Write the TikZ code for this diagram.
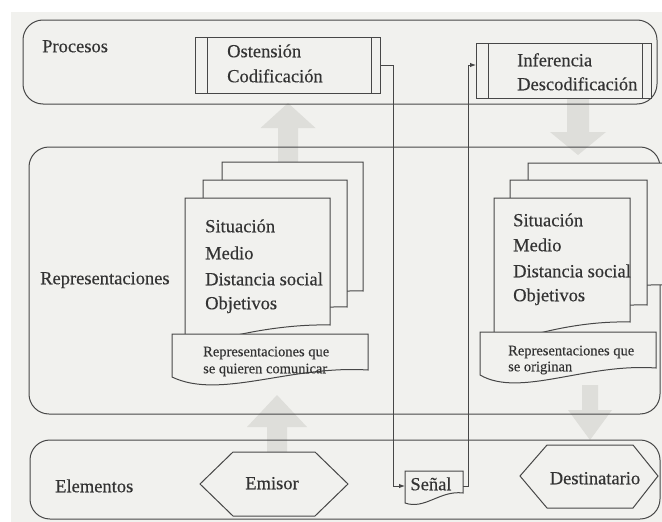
\documentclass[tikz,border=0pt]{standalone}
\usepackage{fontspec}
\setmainfont[FakeBold=0.35]{Liberation Serif}
\usetikzlibrary{arrows.meta}
\definecolor{bgc}{HTML}{F1F1EE}
\definecolor{arrg}{HTML}{DEDEDA}
\definecolor{linec}{HTML}{474747}
\definecolor{txtc}{HTML}{333333}
\newcommand\mainf{\fontsize{18.5}{22}\selectfont}
\newcommand\smallf{\fontsize{14.5}{17}\selectfont}
\newcommand\pagepath[4]{(#1,#2) -- ++(#3,0) -- ++(0,#4) .. controls +(-40,-1) and +(50,-18) .. ++(-#3,25) -- cycle}
\begin{document}
\begin{tikzpicture}[x=1pt,y=-1pt,
  ln/.style={draw=linec, line width=1pt},
  band/.style={ln, rounded corners=20pt, inner sep=0pt, outer sep=0pt},
  procbox/.style={ln, fill=bgc, inner sep=0pt, outer sep=0pt},
  garrow/.style={fill=arrg, draw=none},
  pagefill/.style={ln, fill=bgc},
  txt/.style={anchor=west, inner sep=0pt, text=txtc, font=\mainf, text height=12pt, text depth=3.5pt},
  stxt/.style={anchor=west, inner sep=0pt, text=txtc, font=\smallf, text height=9.5pt, text depth=3pt},
  ctxt/.style={inner sep=0pt, text=txtc, font=\mainf, text height=12pt, text depth=3.5pt},
  conn/.style={ln, -{Latex[length=6pt,width=4.5pt]}},
]
\useasboundingbox (0,0) rectangle (662,522);
% background
\fill[white] (0,0) rectangle (662,522);
\fill[bgc] (11,12) rectangle (662,522);

% grey block arrows
\fill[garrow] (288,103) -- (315.5,128) -- (298,128) -- (298,165) -- (278,165) -- (278,128) -- (260.5,128) -- cycle;
\fill[garrow] (277,395) -- (307,427) -- (287,427) -- (287,455) -- (267,455) -- (267,427) -- (247,427) -- cycle;
\fill[garrow] (567,99) -- (589,99) -- (589,132) -- (606,132) -- (578,155) -- (550,132) -- (567,132) -- cycle;
\fill[garrow] (582,385) -- (598,385) -- (598,410) -- (612,410) -- (590,440) -- (568,410) -- (582,410) -- cycle;

% bands
\node[band, minimum width=634pt, minimum height=84pt] (procesos) at (340,62) {};
\node[band, minimum width=631pt, minimum height=267pt] (repres) at (344.5,280.5) {};
\node[band, minimum width=630pt, minimum height=79pt] (elem) at (345,479.5) {};

% process boxes
\node[procbox, minimum width=185pt, minimum height=56pt] (ost) at (287.5,65) {};
\draw[ln] ([xshift=12pt]ost.north west) -- ([xshift=12pt]ost.south west);
\draw[ln] ([xshift=-9pt]ost.north east) -- ([xshift=-9pt]ost.south east);
\node[procbox, minimum width=175pt, minimum height=55pt] (inf) at (563.5,70.5) {};
\draw[ln] ([xshift=12pt]inf.north west) -- ([xshift=12pt]inf.south west);
\draw[ln] ([xshift=-9pt]inf.north east) -- ([xshift=-9pt]inf.south east);

% left document stack
\draw[pagefill] \pagepath{222}{162}{141}{129};
\draw[pagefill] \pagepath{203}{180}{144}{127};
\draw[pagefill] \pagepath{185}{198}{145}{127};
\draw[pagefill] (172,334) -- (368,334) -- (368,370) .. controls (290,365) and (220,400) .. (172,377) -- cycle;

% right document stack
\draw[pagefill] \pagepath{528}{163}{136}{122};
\draw[pagefill] \pagepath{510}{180}{137}{125};
\draw[pagefill] \pagepath{494}{198}{136}{124};
\draw[pagefill] (480,332) -- (656,332) -- (656,368) .. controls (585,363) and (520,398) .. (480,375) -- cycle;

% hexagons
\draw[pagefill] (200,484) -- (233,452) -- (315,452) -- (348,484) -- (315,516) -- (233,516) -- cycle;
\draw[pagefill] (520,476) -- (547,445) -- (633,445) -- (658,476) -- (633,508) -- (547,508) -- cycle;

% signal document
\node[inner sep=0pt, outer sep=0pt, minimum width=58pt, minimum height=30pt] (senalbox) at (434,486) {};
\draw[pagefill] (405,471) -- (463,471) -- (463,493) .. controls (440,490) and (425,510) .. (405,503) -- cycle;

% texts
\node[txt] (lproc) at (42,48) {Procesos};
\node[txt] (lrep) at (40,280) {Representaciones};
\node[txt] (lele) at (55,488) {Elementos};
\node[txt] (ost1) at (227,53) {Ostensión};
\node[txt] (ost2) at (227,78) {Codificación};
\node[txt] (inf1) at (517,62) {Inferencia};
\node[txt] (inf2) at (517,86) {Descodificación};
\node[txt] (la) at (205,228) {Situación};
\node[txt] (lb) at (205,255) {Medio};
\node[txt] (lc) at (205,281) {Distancia social};
\node[txt] (ld) at (205,305) {Objetivos};
\node[txt] (ra) at (513,222) {Situación};
\node[txt] (rb) at (513,247) {Medio};
\node[txt] (rc) at (513,273) {Distancia social};
\node[txt] (rd) at (513,297) {Objetivos};
\node[stxt] (lban1) at (203,353) {Representaciones que};
\node[stxt] (lban2) at (203,370) {se quieren comunicar};
\node[stxt] (rban1) at (508,352) {Representaciones que};
\node[stxt] (rban2) at (508,368) {se originan};
\node[ctxt] (emisor) at (272,485) {Emisor};
\node[ctxt] (dest) at (595,480) {Destinatario};
\node[ctxt] (senal) at (431,486) {Señal};

% connectors
\draw[conn] (ost.east) -- ++(13,0) |- (senalbox.west);
\draw[conn] (senalbox.east) -- ++(5,0) |- ([yshift=5.5pt]inf.west);
\end{tikzpicture}
\end{document}
